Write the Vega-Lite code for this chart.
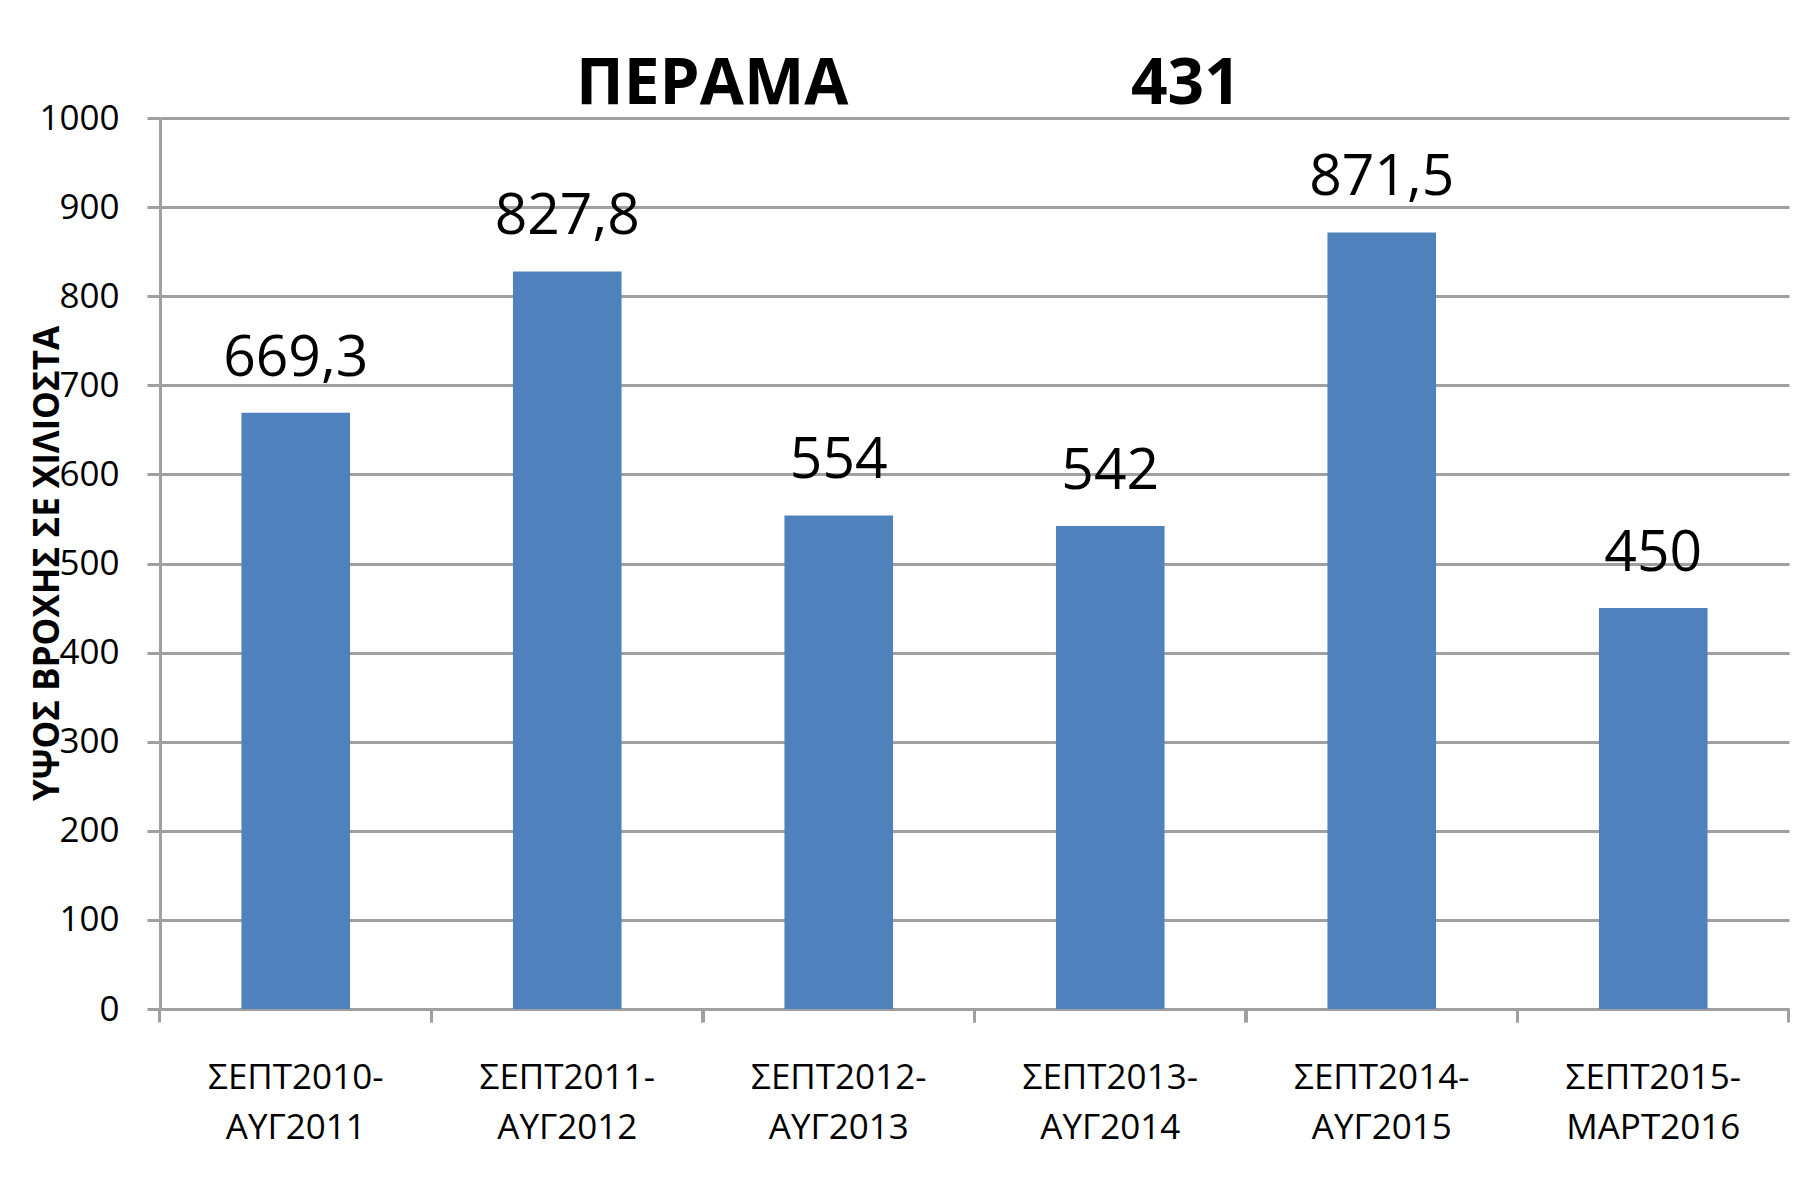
{
  "$schema": "https://vega.github.io/schema/vega-lite/v6.json",
  "description": "Rainfall at Perama station 431, by hydrological year.",
  "width": 1629,
  "height": 891,
  "autosize": {"type": "none"},
  "padding": {"left": 160, "top": 118, "right": 17, "bottom": 175},
  "background": "white",
  "config": {
    "view": {"stroke": null},
    "font": "Open Sans"
  },
  "title": {
    "text": "ΠΕΡΑΜΑ\u00a0\u00a0\u00a0\u00a0\u00a0\u00a0\u00a0\u00a0\u00a0\u00a0\u00a0\u00a0\u00a0\u00a0\u00a0\u00a0\u00a0431",
    "anchor": "start",
    "frame": "group",
    "dx": 416,
    "offset": -67,
    "baseline": "alphabetic",
    "font": "Open Sans",
    "fontSize": 64,
    "fontWeight": "bold",
    "color": "black"
  },
  "data": {
    "values": [
      {"period": "ΣΕΠΤ2010-ΑΥΓ2011", "rain": 669.3},
      {"period": "ΣΕΠΤ2011-ΑΥΓ2012", "rain": 827.8},
      {"period": "ΣΕΠΤ2012-ΑΥΓ2013", "rain": 554},
      {"period": "ΣΕΠΤ2013-ΑΥΓ2014", "rain": 542},
      {"period": "ΣΕΠΤ2014-ΑΥΓ2015", "rain": 871.5},
      {"period": "ΣΕΠΤ2015-ΜΑΡΤ2016", "rain": 450}
    ]
  },
  "transform": [
    {"calculate": "replace(format(datum.rain, '.4~r'), '.', ',')", "as": "label"}
  ],
  "encoding": {
    "x": {
      "field": "period", "type": "nominal", "sort": null,
      "scale": {"paddingInner": 0.6, "paddingOuter": 0.3},
      "axis": {
        "title": null,
        "orient": "bottom",
        "bandPosition": -0.75,
        "labelExpr": "[slice(datum.value, 0, 9), slice(datum.value, 9)]",
        "labelAngle": 0,
        "labelFont": "Open Sans",
        "labelFontSize": 35,
        "labelLineHeight": 50,
        "labelBaseline": "top",
        "labelPadding": 38,
        "labelColor": "black",
        "domainColor": "#A0A0A0", "domainWidth": 3,
        "tickColor": "#A0A0A0", "tickWidth": 3, "tickSize": 13
      }
    },
    "y": {
      "field": "rain", "type": "quantitative",
      "scale": {"domain": [0, 1000], "nice": false},
      "axis": {
        "title": "ΥΨΟΣ ΒΡΟΧΗΣ ΣΕ ΧΙΛΙΟΣΤΑ",
        "values": [0, 100, 200, 300, 400, 500, 600, 700, 800, 900, 1000],
        "format": "d",
        "grid": true, "gridColor": "#A0A0A0", "gridWidth": 3,
        "domainColor": "#A0A0A0", "domainWidth": 3,
        "tickColor": "#A0A0A0", "tickWidth": 3, "tickSize": 13,
        "labelPadding": 28,
        "labelFont": "Open Sans", "labelFontSize": 35, "labelColor": "black",
        "titleFont": "Open Sans", "titleFontSize": 35, "titleFontWeight": "bold", "titleColor": "black",
        "titleAngle": -90, "titleBaseline": "alphabetic", "titleAlign": "center",
        "titleX": -102, "titleY": 445
      }
    }
  },
  "layer": [
    {"mark": {"type": "bar", "color": "#4F81BD"}},
    {
      "mark": {"type": "text", "dy": -37, "baseline": "alphabetic", "font": "Open Sans", "fontSize": 57, "color": "black"},
      "encoding": {
        "x": {
          "field": "period", "type": "nominal", "sort": null,
          "axis": {
            "title": null, "orient": "bottom", "bandPosition": 1.75,
            "labels": false, "domain": false, "grid": false,
            "tickColor": "#A0A0A0", "tickWidth": 3, "tickSize": 13
          }
        },
        "text": {"field": "label", "type": "nominal"}
      }
    }
  ],
  "resolve": {"axis": {"x": "independent"}}
}
